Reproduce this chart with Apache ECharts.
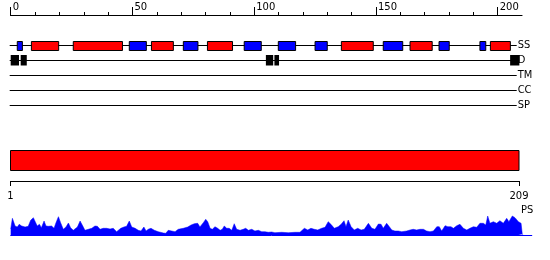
<!DOCTYPE html>
<html><head><meta charset="utf-8">
<script src="https://cdn.jsdelivr.net/npm/echarts@6/dist/echarts.min.js"></script>
<style>html,body{margin:0;padding:0;background:#fff}#c{width:550px;height:260px}</style>
</head><body><div id="c"></div>
<script>
// ---- data ----
const topTickLabels = [0, 50, 100, 150, 200];
const trackNames = ['SS', 'D', 'TM', 'CC', 'SP'];
const helices = [[8.5,19.7],[25.7,45.9],[57.8,66.8],[80.8,91.1],[135.8,148.9],[164.0,173.1],[197.0,205.2]];
const strands = [[2.7,4.8],[48.7,55.7],[70.9,76.9],[95.9,102.9],[109.9,117.0],[125.0,130.0],[153.0,161.0],[175.9,180.1],[192.7,195.1]];
const disorder = [[0,3.4],[4.1,6.6],[104.8,107.8],[108.3,110.2],[205.1,208.9]];
const domains = [[1, 209]];
const seqEnds = [1, 209];
const psProfile = [[0,6],[0.7,16.7],[1.8,9],[2.7,8],[3.5,10.7],[4.5,9],[5.9,8],[7.2,8.7],[8.2,14.7],[9.3,17.3],[10,15.7],[10.9,9],[11.8,10.7],[12.6,7.3],[13.7,14],[14.5,9],[15.4,8.7],[16.8,9],[17.8,6.7],[18.6,12.3],[19.6,18.3],[20.5,12.3],[21.6,5.7],[22.7,8],[23.7,12],[24.6,7.3],[25.7,4.7],[27.4,8],[28.5,14],[29.6,9],[30.5,4.7],[31.9,5.7],[33.3,6.7],[34.6,9],[35.6,8.7],[36.7,5.7],[38,6.7],[39.4,6.7],[40.8,6],[42.1,6.7],[43.5,3.3],[44.2,2.3],[45.2,6.7],[46.5,8],[47.6,8.7],[48.7,14],[49.7,8],[51.1,6.7],[52.4,4.7],[53.5,4],[54.7,8],[55.6,4],[56.5,5.7],[57.6,6.7],[59,4.7],[60.6,3.3],[62.7,2],[63.7,1.7],[64.7,4.7],[66.1,4],[67.5,3.3],[68.8,5.7],[70.9,6.7],[72.7,8],[74.1,10],[75.4,11.3],[76.1,9.7],[76.8,11.7],[77.7,8],[79.1,12.3],[80.1,15.7],[80.9,13.3],[81.9,6.7],[82.8,5.7],[83.9,8.3],[85,6.7],[86,4.7],[86.9,5.7],[87.7,9],[88.7,6.7],[89.7,6.7],[90.8,4.7],[91.8,11.3],[92.8,5.7],[94.2,4.7],[95.5,5.7],[96.5,6.7],[97.6,4.7],[99,5.7],[100.3,4],[101.7,4.7],[103.1,3.3],[104.4,3.3],[105.8,2.7],[107.2,3],[108.5,2.3],[111.3,2.7],[114,2.3],[116.8,2.7],[118.8,2.7],[120.6,6.7],[122,5],[123.3,6.7],[124.7,5.7],[126.1,5],[127.7,6.7],[129.1,7.7],[130.4,13.3],[131.5,10.7],[132.9,6.7],[134.5,8.3],[135.7,10.7],[136.9,14.3],[137.7,8.3],[138.6,15],[139.8,8.3],[141.1,5],[142.5,6.7],[143.9,5],[145.2,5.7],[146.9,11.7],[148.3,6.7],[149.6,5.7],[151,11],[152.1,10.7],[153,6.7],[154.4,11.7],[155.5,8.3],[156.5,5],[157.8,4],[159.2,4],[160.6,3.3],[162.6,4],[164,5],[165.3,5.7],[166.7,5],[168.1,5.7],[169.5,5.7],[170.8,4],[172.2,3.3],[173.6,4],[175,8.3],[176,8.3],[177,4],[178.4,9.3],[179.5,8.3],[180.8,8.3],[181.8,6.7],[183.2,9.3],[184.5,10.7],[185.9,6.7],[187.3,5],[188.6,6.7],[190,8.3],[191.4,7.7],[192.7,11.7],[194.1,11.7],[195.1,10],[195.9,19],[196.8,11.7],[198.2,13.3],[199.6,11.7],[200.9,14.3],[202.3,11.7],[203.7,16.7],[204.6,13.3],[206,19],[207.1,17.3],[208.5,13.3],[209.6,11.7],[210.1,0.7],[210.5,0]];

// ---- layout ----
const X0 = 10.7, PXU = 2.435;
const trackV = [30.5, 45.5, 60.5, 75.5, 90.5];
const trackEnd = 207.8;
const FONT = 'DejaVu Sans';
const LFONT = '"DejaVu Sans Condensed", "Liberation Sans Narrow", "DejaVu Sans"';
const BLACK_LINE = {show: true, onZero: false, lineStyle: {color: '#000', width: 1}};

function rectItem(trackIdx, fill, stroke, up, h) {
  return function (params, api) {
    const p1 = api.coord([api.value(0), trackV[trackIdx]]);
    const p2 = api.coord([api.value(1), trackV[trackIdx]]);
    const st = {fill: fill};
    if (stroke) { st.stroke = stroke; st.lineWidth = 1; }
    return {type: 'rect', shape: {x: p1[0], y: p1[1] - up, width: p2[0] - p1[0], height: h}, style: st};
  };
}

const chart = echarts.init(document.getElementById('c'), null, {renderer: 'canvas'});
const hiddenY = (i, max, inv) => ({type: 'value', gridIndex: i, min: 0, max: max, inverse: inv, show: false});
chart.setOption({
  animation: false,
  backgroundColor: '#fff',
  grid: [
    {left: X0, top: 15, width: 210 * PXU, height: 100},
    {left: X0, top: 15, width: 200 * PXU, height: 100},
    {left: X0, top: 15, width: 200 * PXU, height: 100},
    {left: 10.5, top: 150, width: 508.5, height: 31},
    {left: X0, top: 215, width: 214 * PXU, height: 20}
  ],
  xAxis: [
    {type: 'value', gridIndex: 0, position: 'top', min: 0, max: 210,
     axisLine: BLACK_LINE, axisTick: {show: false}, axisLabel: {show: false}, splitLine: {show: false}},
    {type: 'value', gridIndex: 1, position: 'top', min: 0, max: 200, interval: 10,
     axisLine: BLACK_LINE,
     axisTick: {show: true, length: 3, lineStyle: {color: '#000', width: 1}},
     axisLabel: {show: false}, splitLine: {show: false}},
    {type: 'value', gridIndex: 2, position: 'top', min: 0, max: 200, interval: 50,
     axisLine: BLACK_LINE,
     axisTick: {show: true, length: 8, lineStyle: {color: '#000', width: 1}},
     axisLabel: {show: true, align: 'left', margin: 3, padding: [0, 0, 0, 2],
                 color: '#000', fontFamily: FONT, fontSize: 10,
                 formatter: v => topTickLabels.indexOf(v) >= 0 ? String(v) : ''},
     splitLine: {show: false}},
    {type: 'value', gridIndex: 3, position: 'bottom', min: 1, max: 209,
     axisLine: BLACK_LINE,
     axisTick: {show: true, length: 5, customValues: seqEnds, lineStyle: {color: '#000', width: 1}},
     axisLabel: {show: true, customValues: seqEnds, margin: 10, color: '#000', fontFamily: FONT, fontSize: 10},
     splitLine: {show: false}},
    {type: 'value', gridIndex: 4, position: 'bottom', min: 0, max: 214,
     axisLine: {show: true, onZero: false, lineStyle: {color: '#0000ff', width: 1}},
     axisTick: {show: false}, axisLabel: {show: false}, splitLine: {show: false}}
  ],
  yAxis: [hiddenY(0, 100, true), hiddenY(1, 100, true), hiddenY(2, 100, true), hiddenY(3, 31, true),
    hiddenY(4, 20, false)],
  graphic: [{type: 'text', left: 521, top: 205, style: {text: 'PS', fill: '#000', font: '11px ' + LFONT}}],
  series: [
    {type: 'custom', xAxisIndex: 0, yAxisIndex: 0, data: trackNames.map((n, i) => [i]),
     renderItem: function (params, api) {
       const v = trackV[params.dataIndex];
       const a = api.coord([0, v]), b = api.coord([trackEnd, v]);
       return {type: 'group', children: [
         {type: 'line', shape: {x1: a[0] - 1, y1: a[1], x2: b[0], y2: b[1]}, style: {stroke: '#000', lineWidth: 1}},
         {type: 'text', x: b[0] + 1, y: b[1], style: {text: trackNames[params.dataIndex], fill: '#000',
           font: '11px ' + LFONT, verticalAlign: 'middle', align: 'left'}}
       ]};
     }},
    {type: 'custom', xAxisIndex: 0, yAxisIndex: 0, data: helices, renderItem: rectItem(0, '#ff0000', '#000', 4, 9)},
    {type: 'custom', xAxisIndex: 0, yAxisIndex: 0, data: strands, renderItem: rectItem(0, '#0000ff', '#000', 4, 9)},
    {type: 'custom', xAxisIndex: 0, yAxisIndex: 0, data: disorder, renderItem: rectItem(1, '#000', null, 5.5, 10.5)},
    {type: 'custom', xAxisIndex: 3, yAxisIndex: 3, data: domains,
     renderItem: function (params, api) {
       const p1 = api.coord([api.value(0), 0.5]);
       const p2 = api.coord([api.value(1), 20.5]);
       return {type: 'rect', shape: {x: p1[0], y: p1[1], width: p2[0] - p1[0], height: p2[1] - p1[1]},
               style: {fill: '#ff0000', stroke: '#000', lineWidth: 1}};
     }},
    {type: 'line', xAxisIndex: 4, yAxisIndex: 4, data: psProfile, showSymbol: false, symbol: 'none',
     lineStyle: {color: '#0000ff', width: 0.5}, areaStyle: {color: '#0000ff', opacity: 1}, silent: true}
  ]
});
</script></body></html>
